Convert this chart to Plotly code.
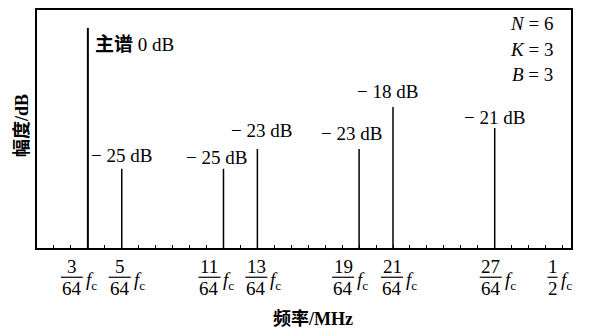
import plotly.graph_objects as go

# ---- data ----
harmonic_k = [3, 5, 11, 13, 19, 21, 27]            # spectral line positions, units of fc/64
levels_db = [0, -25, -25, -23, -23, -18, -21]      # labelled levels (dB)
drawn_height = [1.0, 0.36, 0.36, 0.45, 0.45, 0.64, 0.545]  # schematic drawn heights (relative)
level_text = ["主谱 0 dB"] + ["− %d dB" % (-v) for v in levels_db[1:]]

tick_pos = [3, 5, 11, 13, 19, 21, 27, 31]
tick_num = ["3", "5", "11", "13", "19", "21", "27", "1"]
tick_den = ["64", "64", "64", "64", "64", "64", "64", "2"]
minor_ticks = list(range(1, 32))

params = ["<i>N</i> = 6", "<i>K</i> = 3", "<i>B</i> = 3"]

# ---- style / layout ----
W, H = 592, 333
L, R, T, B = 37, 21, 8, 85
PH = H - T - B
XMAX = 31.5
SERIF = "Liberation Serif, Times New Roman, Noto Sans CJK SC, serif"
FS = 19

def py2paper(py):
    return (H - B - py) / PH

# per-label pixel offsets (x shift, y shift) for dB labels
lab_dx = [5, 0, -7, 4, -8, -6, 0]
lab_dy = [-17, 13, 11, 18, 15, 16, 11]
# per-tick fraction centre offsets (pixels) and bar half-widths
frac_dx = [-16, -2, -14, -1, -16, -1, -4, -10]
bar_half = [11, 11, 11, 11, 11, 11, 11, 5]

fig = go.Figure()

xs, ys = [], []
for k, h in zip(harmonic_k[1:], drawn_height[1:]):
    xs += [k, k, None]
    ys += [0, h, None]
fig.add_trace(go.Scatter(x=[harmonic_k[0], harmonic_k[0]], y=[0, drawn_height[0]],
                         mode="lines", line=dict(color="black", width=2),
                         hoverinfo="skip", showlegend=False))
fig.add_trace(go.Scatter(x=xs, y=ys, mode="lines", line=dict(color="black", width=1.5),
                         hoverinfo="skip", showlegend=False))

ann = []
for i, (k, h, t) in enumerate(zip(harmonic_k, drawn_height, level_text)):
    if i == 0:
        t = "<b>主谱</b> 0 dB"
    ann.append(dict(x=k, y=h, xref="x", yref="y", text=t, showarrow=False,
                    xanchor="left" if i == 0 else "center", yanchor="middle",
                    xshift=lab_dx[i], yshift=lab_dy[i],
                    font=dict(family=SERIF, size=FS, color="black")))

shapes = []
for i, (k, n, d) in enumerate(zip(tick_pos, tick_num, tick_den)):
    cx = frac_dx[i]
    ann.append(dict(x=k, y=py2paper(267), xref="x", yref="paper", text=n, showarrow=False,
                    xanchor="center", yanchor="middle", xshift=cx,
                    font=dict(family=SERIF, size=FS, color="black")))
    ann.append(dict(x=k, y=py2paper(289), xref="x", yref="paper", text=d, showarrow=False,
                    xanchor="center", yanchor="middle", xshift=cx,
                    font=dict(family=SERIF, size=FS, color="black")))
    shapes.append(dict(type="line", xref="x", yref="paper", xsizemode="pixel", xanchor=k,
                       x0=cx - bar_half[i], x1=cx + bar_half[i],
                       y0=py2paper(277.5), y1=py2paper(277.5),
                       line=dict(color="black", width=1.2)))
    ann.append(dict(x=k, y=py2paper(281), xref="x", yref="paper",
                    text="<i>f</i><sub>c</sub>", showarrow=False,
                    xanchor="left", yanchor="middle", xshift=cx + bar_half[i] + 1,
                    font=dict(family=SERIF, size=FS, color="black")))

for j, p in enumerate(params):
    ann.append(dict(x=(555 - L) / (W - L - R), y=py2paper(22 + 25.5 * j), xref="paper", yref="paper",
                    text=p, showarrow=False, xanchor="right", yanchor="middle",
                    font=dict(family=SERIF, size=FS, color="black")))

ann.append(dict(x=(313 - L) / (W - L - R), y=py2paper(320), xref="paper", yref="paper",
                text="<b>频率/MHz</b>", showarrow=False, xanchor="center", yanchor="middle",
                font=dict(family=SERIF, size=18, color="black")))
ann.append(dict(x=(22 - L) / (W - L - R), y=py2paper(125), xref="paper", yref="paper",
                text="<b>幅度/dB</b>", showarrow=False, xanchor="center", yanchor="middle",
                textangle=-90, font=dict(family=SERIF, size=18, color="black")))

fig.update_layout(
    width=W, height=H, margin=dict(l=L, r=R, t=T, b=B),
    paper_bgcolor="white", plot_bgcolor="white",
    annotations=ann, shapes=shapes, showlegend=False,
)
fig.update_xaxes(range=[0, XMAX], showgrid=False, zeroline=False,
                 showline=True, linecolor="black", linewidth=2, mirror=True,
                 ticks="inside", tickvals=minor_ticks, ticklen=3, tickwidth=1,
                 tickcolor="black", showticklabels=False)
fig.update_yaxes(range=[0, 240 / 222], showgrid=False, zeroline=False,
                 showline=True, linecolor="black", linewidth=2, mirror=True,
                 ticks="", showticklabels=False)

fig.write_html("out.html", config={"displayModeBar": False},
               post_script="document.body.style.margin='0';document.body.style.padding='0';"
                           "document.body.style.overflow='hidden';")
